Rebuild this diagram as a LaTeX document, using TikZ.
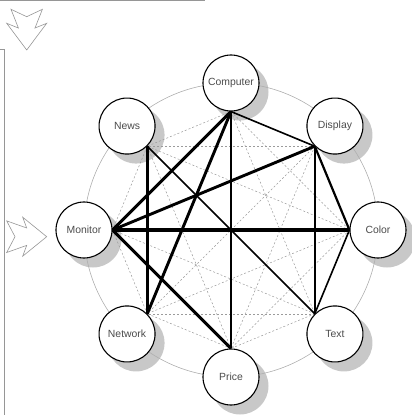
\documentclass[tikz,border=0pt]{standalone}
\usepackage{fontspec}
\setsansfont{Liberation Sans}
\usetikzlibrary{backgrounds}
\definecolor{RingGray}{RGB}{175,175,175}
\definecolor{DashGray}{RGB}{155,155,155}
\definecolor{ShadowGray}{RGB}{200,200,200}
\definecolor{LabelGray}{RGB}{75,75,75}
\definecolor{FrameGray}{RGB}{150,150,150}

\begin{document}
\begin{tikzpicture}[x=1pt, y=1pt,
    term/.style={circle, draw=black, line width=1.1pt, fill=white, minimum size=56pt, inner sep=0pt, text=LabelGray, font=\sffamily\fontsize{10.4}{12}\selectfont},
    faint/.style={DashGray, line width=0.5pt, dash pattern=on 2pt off 2pt},
    light/.style={black, line width=1.6pt},
    mid/.style={black, line width=2.2pt},
    heavy/.style={black, line width=2.9pt},
    heaviest/.style={black, line width=3.6pt},
    hollow/.style={draw=FrameGray, line width=0.6pt}]
  \useasboundingbox (-231,-185) rectangle (181,230);

  % Frame pieces
  \draw[FrameGray, line width=1pt] (-231,229) -- (-26,229);
  \draw[FrameGray, line width=0.8pt] (-231,180.5) -- (-227,180.5) -- (-227,-185);

  % Hollow arrows
  \draw[hollow] (-220,220.7) -- (-204.3,213.3) -- (-188.6,220.7) -- (-196,202) -- (-184.3,206.7)
    -- (-204.3,180) -- (-224.3,206.7) -- (-212.6,202) -- cycle;
  \draw[hollow] (-224.3,9.1) -- (-216,-6.7) -- (-224.3,-22.5) -- (-204.3,-15.4) -- (-208.3,-26.2)
    -- (-184.3,-6.7) -- (-208.3,12.8) -- (-204.3,2) -- cycle;

  % Terms on the ring
  \node[term] (computer) at (90:147) {Computer};
  \node[term] (display) at (45:147) {Display};
  \node[term] (color) at (0:147) {Color};
  \node[term] (text) at (-45:147) {Text};
  \node[term] (price) at (-90:147) {Price};
  \node[term] (network) at (-135:147) {Network};
  \node[term] (monitor) at (180:147) {Monitor};
  \node[term] (news) at (135:147) {News};

  \begin{scope}[on background layer]
    % Shadows
    \foreach \n in {computer, display, color, text, price, network, monitor, news}
      \fill[ShadowGray] ([shift={(9,-9)}]\n.center) circle (28.5);

    % Ring
    \draw[RingGray, line width=0.6pt] (0,0) circle (147);

    % Every pair, dashed
    \foreach \a/\p/\i in {computer/-90/1, display/-135/2, color/180/3, text/135/4, price/90/5, network/45/6, monitor/0/7, news/-45/8}
      \foreach \b/\q/\j in {computer/-90/1, display/-135/2, color/180/3, text/135/4, price/90/5, network/45/6, monitor/0/7, news/-45/8}
        {\ifnum\j>\i \draw[faint] (\a.\p) -- (\b.\q); \fi}

    % Strong links
    \draw[heavy] (computer.-90) -- (monitor.0);
    \draw[heavy] (computer.-90) -- (network.45);
    \draw[heavy] (computer.-90) -- (price.90);
    \draw[light] (computer.-90) -- (display.-135);
    \draw[heavy] (display.-135) -- (monitor.0);
    \draw[mid] (display.-135) -- (color.180);
    \draw[light] (display.-135) -- (text.135);
    \draw[heaviest] (monitor.0) -- (color.180);
    \draw[heavy] (monitor.0) -- (price.90);
    \draw[heavy] (news.-45) -- (network.45);
    \draw[light] (news.-45) -- (text.135);
    \draw[light] (color.180) -- (text.135);
  \end{scope}
\end{tikzpicture}
\end{document}
